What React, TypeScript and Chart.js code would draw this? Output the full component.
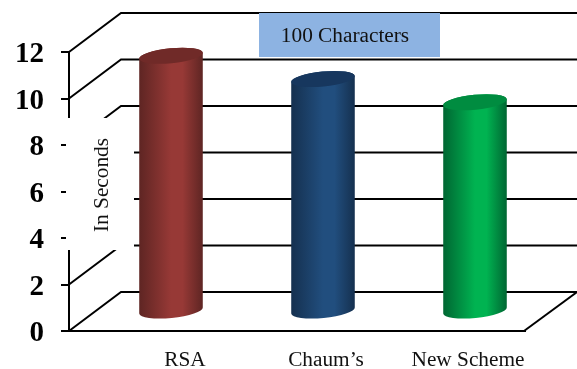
import { useEffect, useRef } from "react";
import { Chart, registerables, BarController, BarElement } from "chart.js";

Chart.register(...registerables);

const schemes = ["RSA", "Chaum\u2019s", "New Scheme"];
const seconds = [11, 10, 9];
const bodyColors = ["#973936", "#214e7e", "#00b351"];
const edgeColors = ["#5e2523", "#15304f", "#006632"];
const lidColors = ["#702a28", "#17375e", "#008c40"];
const yTicks = [0, 2, 4, 6, 8, 10, 12];
const axisTitle = "In Seconds";
const chartCaption = "100 Characters";
const labelNudges = [40, 29, 19];

const SERIF = '"Liberation Serif", "Times New Roman", serif';
const DEPTH_X = 52;
const DEPTH_Y = 39;

// A bar painted as an upright cylinder standing in the middle of the floor.
class CylinderElement extends BarElement {
  static id = "cylinder";
  draw(ctx: CanvasRenderingContext2D) {
    const { x, y, base, width } = (this as any).getProps(["x", "y", "base", "width"]);
    const i = (this as any).$context?.dataIndex ?? 0;
    const cx = x + DEPTH_X / 2;
    const top = y - DEPTH_Y / 2;
    const bottom = base - DEPTH_Y / 2;
    const rx = width / 2;
    const ry = 7.5;
    const tilt = (-5.5 * Math.PI) / 180;

    const g = ctx.createLinearGradient(cx - rx, 0, cx + rx, 0);
    g.addColorStop(0, edgeColors[i]);
    g.addColorStop(0.5, bodyColors[i]);
    g.addColorStop(0.68, bodyColors[i]);
    g.addColorStop(1, edgeColors[i]);

    ctx.save();
    ctx.fillStyle = g;
    ctx.beginPath();
    ctx.ellipse(cx, bottom, rx, ry, tilt, 0, Math.PI);
    ctx.ellipse(cx, top, rx, ry, tilt, Math.PI, 0);
    ctx.closePath();
    ctx.fill();

    ctx.fillStyle = lidColors[i];
    ctx.beginPath();
    ctx.ellipse(cx, top, rx, ry, tilt, 0, Math.PI * 2);
    ctx.fill();
    ctx.restore();
  }
}

class CylinderController extends BarController {
  static id = "cylinder";
  static defaults = { ...(BarController as any).defaults, dataElementType: "cylinder" };
  static overrides = (BarController as any).overrides;
}

Chart.register(CylinderElement as any, CylinderController as any);

// Back wall, side wall, floor, the masked title panel and the caption panel.
const stage = {
  id: "stage",
  beforeDatasetsDraw(chart: any) {
    const { ctx, chartArea } = chart;
    const yScale = chart.scales.y;
    const left = chartArea.left;
    const backLeft = left + DEPTH_X;
    const backRight = chartArea.right + DEPTH_X;
    ctx.save();
    ctx.strokeStyle = "#000";
    ctx.lineWidth = 2;
    for (const v of yTicks) {
      const py = yScale.getPixelForValue(v);
      ctx.beginPath();
      ctx.moveTo(left, py);
      ctx.lineTo(backLeft, py - DEPTH_Y);
      ctx.lineTo(backRight, py - DEPTH_Y);
      ctx.stroke();
    }
    const floorY = yScale.getPixelForValue(0);
    ctx.beginPath();
    ctx.moveTo(chartArea.right - 1, floorY);
    ctx.lineTo(backRight, floorY - DEPTH_Y);
    ctx.stroke();

    // White panel behind the vertical axis title
    ctx.fillStyle = "#fff";
    ctx.fillRect(66, 118, 68, 132);

    // Caption panel
    ctx.fillStyle = "#8db3e2";
    ctx.fillRect(259, 13, 181, 44);

    ctx.fillStyle = "#111";
    ctx.font = `21.3px ${SERIF}`;
    ctx.textAlign = "center";
    ctx.textBaseline = "middle";
    ctx.fillText(chartCaption, 345, 36);

    ctx.save();
    ctx.translate(102, 185);
    ctx.rotate(-Math.PI / 2);
    ctx.fillText(axisTitle, 0, 0);
    ctx.restore();
    ctx.restore();
  },
  afterDatasetsDraw(chart: any) {
    const { ctx } = chart;
    const xScale = chart.scales.x;
    ctx.save();
    ctx.fillStyle = "#111";
    ctx.font = `21.3px ${SERIF}`;
    ctx.textAlign = "center";
    ctx.textBaseline = "middle";
    schemes.forEach((name, i) => {
      ctx.fillText(name, xScale.getPixelForTick(i) + labelNudges[i], 360);
    });
    ctx.restore();
  },
};

export default function App() {
  const ref = useRef<HTMLCanvasElement>(null);
  useEffect(() => {
    const chart = new Chart(ref.current!, {
      type: "cylinder" as any,
      data: {
        labels: schemes,
        datasets: [
          {
            data: seconds,
            backgroundColor: bodyColors,
            barPercentage: 0.42,
            categoryPercentage: 1,
            clip: false,
          } as any,
        ],
      },
      options: {
        animation: false,
        responsive: false,
        layout: { padding: { top: 52, right: 52, left: 0, bottom: 0 } },
        plugins: { legend: { display: false }, tooltip: { enabled: false } },
        scales: {
          x: {
            type: "category",
            grid: { display: false },
            border: { color: "#000", width: 2 },
            ticks: { display: false },
            afterFit: (s: any) => {
              s.height = 38;
            },
          },
          y: {
            min: 0,
            max: 12,
            afterBuildTicks: (s: any) => {
              s.ticks = yTicks.map((value) => ({ value }));
            },
            grid: { drawOnChartArea: false, color: "#000", lineWidth: 2, tickLength: 8 },
            border: { color: "#000", width: 2 },
            ticks: {
              color: "#000",
              padding: 17,
              labelOffset: 3,
              font: { family: SERIF, size: 29, weight: "bold" },
            },
            afterFit: (s: any) => {
              s.width = 69;
            },
          },
        },
      },
      plugins: [stage],
    } as any);
    return () => chart.destroy();
  }, []);
  return (
    <div style={{ position: "absolute", left: 0, top: 0 }}>
      <canvas ref={ref} width={577} height={369} style={{ display: "block" }} />
    </div>
  );
}
